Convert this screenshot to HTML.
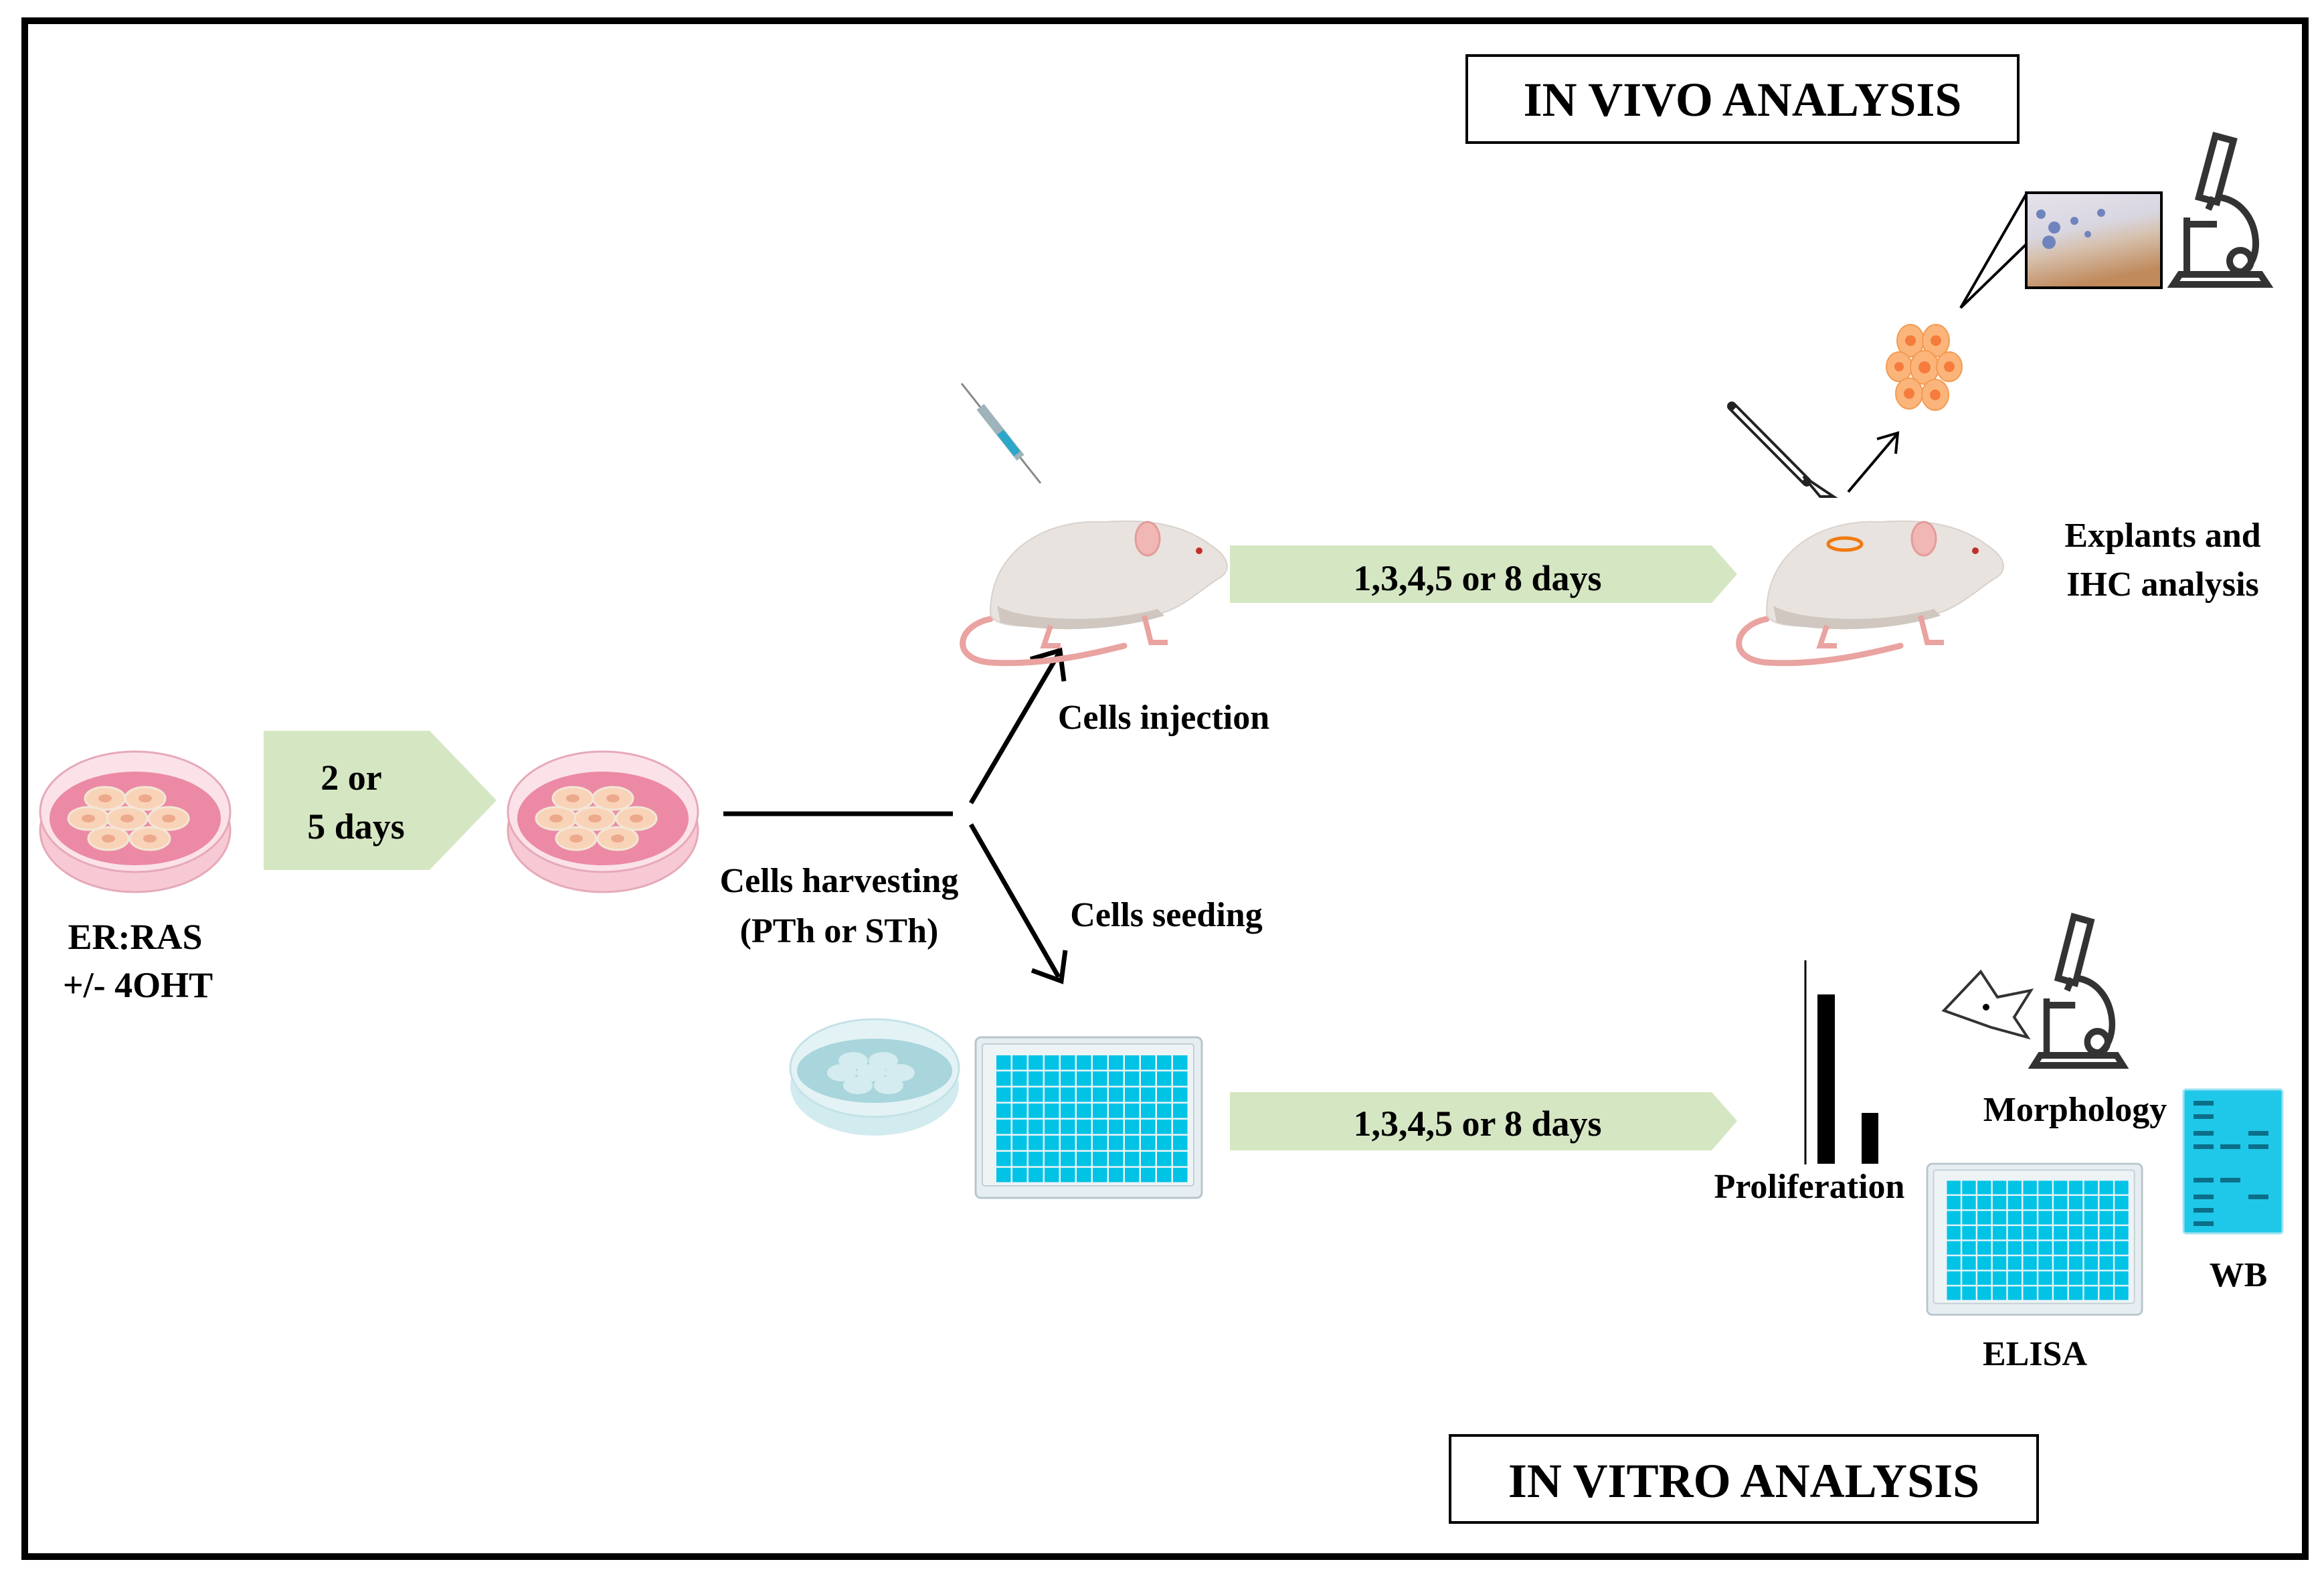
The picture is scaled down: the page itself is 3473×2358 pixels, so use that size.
<!DOCTYPE html>
<html><head><meta charset="utf-8"><style>
html,body{margin:0;padding:0;background:#fff}
svg{display:block}
text{font-family:"Liberation Serif",serif;font-weight:bold;fill:#000}
</style></head><body>
<svg width="3473" height="2358" viewBox="0 0 3473 2358" xmlns="http://www.w3.org/2000/svg">
<defs>
<pattern id="wells" x="30" y="26" width="24" height="24" patternUnits="userSpaceOnUse"><rect x="1" y="1" width="21.5" height="21.5" fill="#00c3e6"/></pattern>
<g id="plate">
<rect x="0" y="0" width="338" height="240" rx="8" fill="#e6eef1" stroke="#b8c6cc" stroke-width="3"/>
<rect x="10" y="10" width="316" height="212" rx="4" fill="#eef4f6" stroke="#c3d0d6" stroke-width="2"/>
<rect x="30" y="26" width="288" height="192" fill="url(#wells)"/>
</g>
<g id="dish">
<ellipse cx="0" cy="18" rx="142" ry="92" fill="#f6c9d4" stroke="#e6a9b8" stroke-width="3"/>
<ellipse cx="0" cy="-10" rx="142" ry="90" fill="#fbe2e8" stroke="#e6a9b8" stroke-width="3"/>
<ellipse cx="0" cy="0" rx="128" ry="70" fill="#ec8aa5"/>
<g fill="#f9d3b7" stroke="#f3e6d6" stroke-width="3">
<ellipse cx="-45" cy="-30" rx="30" ry="17"/><ellipse cx="15" cy="-30" rx="30" ry="17"/>
<ellipse cx="-70" cy="0" rx="30" ry="17"/><ellipse cx="-12" cy="0" rx="30" ry="17"/><ellipse cx="50" cy="0" rx="30" ry="17"/>
<ellipse cx="-40" cy="30" rx="30" ry="17"/><ellipse cx="22" cy="30" rx="30" ry="17"/>
</g>
<g fill="#eda98b">
<ellipse cx="-45" cy="-30" rx="10" ry="6"/><ellipse cx="15" cy="-30" rx="10" ry="6"/>
<ellipse cx="-70" cy="0" rx="10" ry="6"/><ellipse cx="-12" cy="0" rx="10" ry="6"/><ellipse cx="50" cy="0" rx="10" ry="6"/>
<ellipse cx="-40" cy="30" rx="10" ry="6"/><ellipse cx="22" cy="30" rx="10" ry="6"/>
</g>
</g>
<g id="mouse">
<path d="M40 190 C-10 200 -20 250 40 255 C120 260 200 240 240 230" fill="none" stroke="#e9a3a0" stroke-width="9" stroke-linecap="round"/>
<path d="M40 180 C40 90 120 40 210 45 C280 40 330 50 370 80 C400 100 400 120 380 130 C350 150 330 170 300 180 C240 200 150 205 80 200 C55 198 40 192 40 180 Z" fill="#e8e3df" stroke="#d9d2cc" stroke-width="2"/>
<path d="M50 170 C80 190 200 200 290 175 L300 185 C220 210 120 210 55 195 Z" fill="#cfc7c0"/>
<ellipse cx="275" cy="70" rx="18" ry="25" fill="#f1b7b5" stroke="#e39c9a" stroke-width="3"/>
<circle cx="352" cy="88" r="5" fill="#c0302a"/>
<path d="M130 200 l-10 30 l25 0 M270 185 l10 40 l25 0" stroke="#e9a3a0" stroke-width="8" fill="none"/>
</g>
<g id="scope" fill="none" stroke="#333" stroke-width="10">
<rect x="60" y="10" width="28" height="95" transform="rotate(15 74 57)"/>
<path d="M62 118 l8 -18 M80 100 C140 110 150 200 105 215"/>
<circle cx="110" cy="195" r="16"/>
<path d="M30 130 L30 215 M30 140 L75 140 M10 230 L150 230 L140 215 L20 215 Z"/>
</g>
<linearGradient id="ihc" x1="0" y1="0" x2="0.3" y2="1"><stop offset="0" stop-color="#e6e2ec"/><stop offset="0.45" stop-color="#d8d6e0"/><stop offset="0.65" stop-color="#d6c0ad"/><stop offset="1" stop-color="#c08a5c"/></linearGradient>
</defs>

<rect x="37" y="31" width="3408" height="2295" fill="none" stroke="#000" stroke-width="10"/>

<rect x="2192" y="83" width="824" height="130" fill="#fff" stroke="#000" stroke-width="4"/>
<text x="2604" y="173" font-size="72" text-anchor="middle">IN VIVO ANALYSIS</text>
<rect x="2167" y="2145" width="878" height="130" fill="#fff" stroke="#000" stroke-width="4"/>
<text x="2606" y="2237" font-size="72" text-anchor="middle">IN VITRO ANALYSIS</text>

<polygon points="394,1092 642,1092 742,1196 642,1300 394,1300" fill="#d5e6c3"/>
<text x="525" y="1180" font-size="54" text-anchor="middle">2 or</text>
<text x="532" y="1253" font-size="54" text-anchor="middle">5 days</text>
<polygon points="1838,815 2558,815 2596,858 2558,901 1838,901" fill="#d5e6c3"/>
<text x="2208" y="882" font-size="54" text-anchor="middle">1,3,4,5 or 8 days</text>
<polygon points="1838,1632 2558,1632 2596,1675 2558,1719 1838,1719" fill="#d5e6c3"/>
<text x="2208" y="1697" font-size="54" text-anchor="middle">1,3,4,5 or 8 days</text>

<use href="#dish" x="202" y="1223"/>
<use href="#dish" x="901" y="1223"/>
<text x="202" y="1418" font-size="54" text-anchor="middle">ER:RAS</text>
<text x="206" y="1490" font-size="54" text-anchor="middle">+/- 4OHT</text>

<line x1="1081" y1="1216" x2="1424" y2="1216" stroke="#000" stroke-width="7"/>
<line x1="1451" y1="1200" x2="1582" y2="977" stroke="#000" stroke-width="7"/>
<polyline points="1540,985 1584,972 1590,1018" fill="none" stroke="#000" stroke-width="7"/>
<line x1="1451" y1="1232" x2="1582" y2="1460" stroke="#000" stroke-width="7"/>
<polyline points="1542,1450 1586,1466 1592,1420" fill="none" stroke="#000" stroke-width="7"/>
<text x="1254" y="1333" font-size="52" text-anchor="middle">Cells harvesting</text>
<text x="1254" y="1408" font-size="52" text-anchor="middle">(PTh or STh)</text>
<text x="1739" y="1089" font-size="52" text-anchor="middle">Cells injection</text>
<text x="1743" y="1384" font-size="52" text-anchor="middle">Cells seeding</text>

<line x1="1437" y1="573" x2="1555" y2="722" stroke="#888" stroke-width="3"/>
<line x1="1465" y1="608" x2="1525" y2="684" stroke="#9fb3ba" stroke-width="14"/>
<line x1="1495" y1="646" x2="1520" y2="678" stroke="#2aa7c9" stroke-width="12"/>

<use href="#mouse" x="1440" y="735"/>
<use href="#mouse" x="2600" y="735"/>
<ellipse cx="2757" cy="813" rx="25" ry="9" fill="none" stroke="#f07a10" stroke-width="5"/>

<line x1="2588" y1="607" x2="2700" y2="720" stroke="#222" stroke-width="14" stroke-linecap="round"/>
<line x1="2592" y1="611" x2="2696" y2="716" stroke="#fff" stroke-width="6"/>
<path d="M2695 712 L2740 742 L2720 742 Z" fill="#fff" stroke="#222" stroke-width="4"/>
<line x1="2762" y1="735" x2="2834" y2="650" stroke="#000" stroke-width="4"/>
<polyline points="2805,656 2836,647 2833,678" fill="none" stroke="#000" stroke-width="4"/>

<g fill="#fbb57a" stroke="#f39a52" stroke-width="2">
<ellipse cx="2855" cy="509" rx="20" ry="24"/><ellipse cx="2893" cy="509" rx="20" ry="24"/>
<ellipse cx="2838" cy="548" rx="19" ry="22"/><ellipse cx="2876" cy="549" rx="21" ry="25"/><ellipse cx="2913" cy="548" rx="19" ry="22"/>
<ellipse cx="2853" cy="588" rx="20" ry="23"/><ellipse cx="2892" cy="590" rx="20" ry="23"/>
</g>
<g fill="#f57c3c">
<circle cx="2855" cy="509" r="8"/><circle cx="2893" cy="509" r="8"/><circle cx="2838" cy="548" r="7"/><circle cx="2876" cy="549" r="9"/><circle cx="2913" cy="548" r="8"/><circle cx="2853" cy="588" r="8"/><circle cx="2892" cy="590" r="8"/>
</g>

<polyline points="3028,290 2930,460 3028,365" fill="none" stroke="#000" stroke-width="4"/>
<rect x="3028" y="288" width="202" height="142" fill="url(#ihc)" stroke="#000" stroke-width="4"/>
<g fill="#6f84bd"><circle cx="3050" cy="320" r="7"/><circle cx="3070" cy="340" r="9"/><circle cx="3100" cy="330" r="6"/><circle cx="3062" cy="362" r="10"/><circle cx="3140" cy="318" r="6"/><circle cx="3120" cy="350" r="5"/></g>
<use href="#scope" x="3238" y="195"/>
<text x="3232" y="817" font-size="52" text-anchor="middle">Explants and</text>
<text x="3232" y="890" font-size="52" text-anchor="middle">IHC analysis</text>

<g>
<ellipse cx="1307" cy="1622" rx="126" ry="75" fill="#d2ebef"/>
<ellipse cx="1307" cy="1596" rx="126" ry="73" fill="#e3f3f5" stroke="#c4e2e7" stroke-width="3"/>
<ellipse cx="1307" cy="1600" rx="116" ry="48" fill="#a9d5dc"/>
<g fill="#d4ecef"><ellipse cx="1275" cy="1585" rx="22" ry="13"/><ellipse cx="1320" cy="1585" rx="22" ry="13"/><ellipse cx="1258" cy="1603" rx="22" ry="13"/><ellipse cx="1302" cy="1603" rx="22" ry="13"/><ellipse cx="1345" cy="1603" rx="22" ry="13"/><ellipse cx="1282" cy="1622" rx="22" ry="13"/><ellipse cx="1328" cy="1622" rx="22" ry="13"/></g>
</g>
<use href="#plate" transform="translate(1458,1550)"/>
<use href="#plate" transform="translate(2880,1739) scale(0.95,0.94)"/>

<line x1="2698" y1="1435" x2="2698" y2="1740" stroke="#000" stroke-width="3"/>
<rect x="2716" y="1486" width="26" height="253" fill="#000"/>
<rect x="2782" y="1663" width="25" height="76" fill="#000"/>
<text x="2704" y="1790" font-size="52" text-anchor="middle">Proliferation</text>

<path d="M2905 1510 L2960 1452 L2985 1490 L3035 1480 L3010 1520 L3030 1550 L2975 1535 Z" fill="#fff" stroke="#333" stroke-width="4"/>
<circle cx="2968" cy="1505" r="5" fill="#000"/>
<use href="#scope" transform="translate(3030,1362) scale(0.95,1.0)"/>
<text x="3101" y="1675" font-size="52" text-anchor="middle">Morphology</text>

<rect x="3263" y="1628" width="148" height="215" rx="4" fill="#1fc8e8" stroke="#9ee3f0" stroke-width="3"/>
<g fill="#0b6f8a">
<rect x="3278" y="1645" width="30" height="7"/><rect x="3278" y="1665" width="30" height="7"/><rect x="3278" y="1690" width="30" height="7"/><rect x="3278" y="1710" width="30" height="7"/><rect x="3318" y="1710" width="30" height="7"/><rect x="3360" y="1690" width="30" height="7"/><rect x="3360" y="1710" width="30" height="7"/><rect x="3278" y="1760" width="30" height="7"/><rect x="3318" y="1760" width="30" height="7"/><rect x="3278" y="1785" width="30" height="7"/><rect x="3278" y="1805" width="30" height="7"/><rect x="3360" y="1785" width="30" height="7"/><rect x="3278" y="1825" width="30" height="7"/>
</g>
<text x="3345" y="1922" font-size="52" text-anchor="middle">WB</text>
<text x="3041" y="2040" font-size="52" text-anchor="middle">ELISA</text>
</svg>
</body></html>
